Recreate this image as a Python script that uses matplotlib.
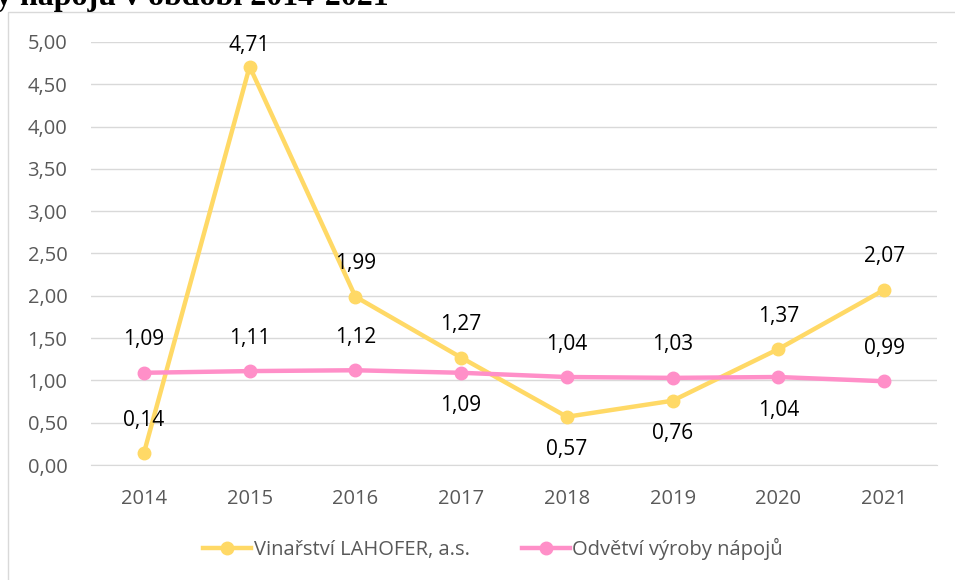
import matplotlib.pyplot as plt
from matplotlib.patches import Rectangle

years = ['2014', '2015', '2016', '2017', '2018', '2019', '2020', '2021']
lahofer = [0.14, 4.71, 1.99, 1.27, 0.57, 0.76, 1.37, 2.07]
odvetvi = [1.09, 1.11, 1.12, 1.09, 1.04, 1.03, 1.04, 0.99]
# label placement: 1 = above, -1 = below
lahofer_pos = [1, 1, 1, 1, -1, -1, 1, 1]
odvetvi_pos = [1, 1, 1, -1, 1, 1, -1, 1]

YELLOW = '#FFD966'
PINK = '#FF8FC8'
FONT = 'Open Sans'

def fmt(v):
    return f'{v:.2f}'.replace('.', ',')

fig = plt.figure(figsize=(9.55, 5.8), dpi=100)
ax = fig.add_axes([91 / 955, 1 - 465 / 580, (937 - 91) / 955, (465 - 42) / 580])

# chart frame
fig.patches.append(Rectangle((8 / 955, -0.1), 1.0, 1 - 12 / 580 + 0.1, transform=fig.transFigure,
                             fill=False, edgecolor='#D9D9D9', linewidth=1.0))

fig.text(-4 / 955, 1 - 5 / 580, 'y nápojů v období 2014-2021', family='Liberation Serif',
         fontsize=23, fontweight='bold', ha='left', va='baseline')

x = range(len(years))
ax.plot(x, lahofer, color=YELLOW, lw=3.2, marker='o', ms=9, label='Vinařství LAHOFER, a.s.', zorder=3)
ax.plot(x, odvetvi, color=PINK, lw=3.2, marker='o', ms=9, label='Odvětví výroby nápojů', zorder=3)

# data units per pixel on the y axis, to keep labels inside the plot area
upp = 5.0 / (465 - 42)
for series, pos in ((lahofer, lahofer_pos), (odvetvi, odvetvi_pos)):
    for i, (v, p) in enumerate(zip(series, pos)):
        ty = min(v + p * 33 * upp, 5.0 - 3 * upp)
        ax.text(i, ty, fmt(v), ha='center', va='center', fontsize=15, family=FONT,
                color='black', zorder=4)

ax.set_xlim(-0.5, len(years) - 0.5)
ax.set_ylim(0, 5)
ax.set_yticks([i * 0.5 for i in range(11)])
ax.set_yticklabels([fmt(i * 0.5) for i in range(11)])
ax.set_xticks(list(x))
ax.set_xticklabels(years)
ax.yaxis.grid(True, color='#D9D9D9', lw=1)
ax.set_axisbelow(True)
for s in ax.spines.values():
    s.set_visible(False)
ax.spines['bottom'].set_visible(True)
ax.spines['bottom'].set_color('#D9D9D9')
ax.tick_params(length=0, labelsize=14.5, labelcolor='#595959')
ax.tick_params(axis='x', pad=17)
ax.tick_params(axis='y', pad=17)
for lab in ax.get_xticklabels() + ax.get_yticklabels():
    lab.set_family(FONT)

leg = fig.legend(loc='center', bbox_to_anchor=(493 / 955, 1 - 549 / 580), ncol=2, frameon=False,
                 prop={'family': FONT, 'size': 14.5}, handlelength=2.4, columnspacing=2.6,
                 handletextpad=0.1)
for t in leg.get_texts():
    t.set_color('#595959')

fig.savefig('out.png', dpi=100)
